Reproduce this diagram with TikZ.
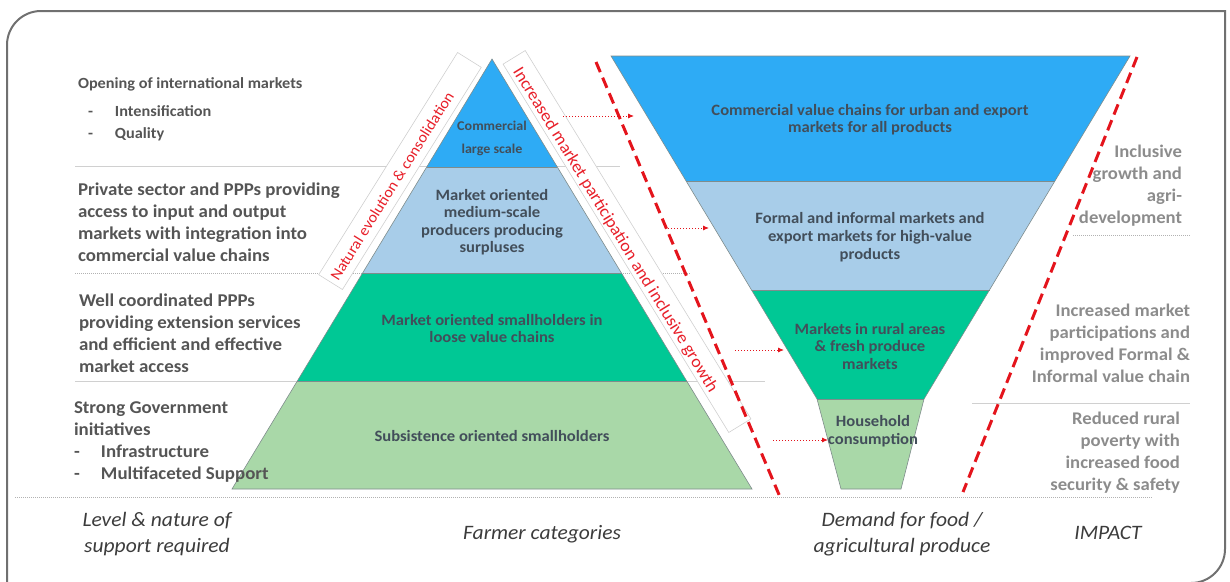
\documentclass[tikz,border=0pt]{standalone}
\usepackage{fontspec}
\setmainfont{Carlito}[FakeStretch=1.05]
\usetikzlibrary{arrows.meta}
\definecolor{cBlue}{HTML}{2EABF5}
\definecolor{cLBlue}{HTML}{A8CDE9}
\definecolor{cGreen}{HTML}{00C895}
\definecolor{cLGreen}{HTML}{A9D8A8}
\definecolor{cRed}{HTML}{E4141C}
\definecolor{cLabel}{HTML}{E8202A}
\definecolor{txtDark}{HTML}{424E5A}
\definecolor{txtLeft}{HTML}{555555}
\definecolor{txtRight}{HTML}{8C8C8C}
\definecolor{txtBottom}{HTML}{3C3C3C}
\definecolor{sepGray}{HTML}{D0D0D0}
\definecolor{frameGray}{HTML}{707070}
\definecolor{edgeGray}{HTML}{7F8C8C}
\begin{document}
\begin{tikzpicture}[x=1pt,y=-1pt,
  every node/.style={inner sep=0pt, outer sep=0pt},
  layer/.style={draw=edgeGray, line width=0.6pt},
  strutted/.style={execute at begin node=\strut, execute at end node=\strut},
  intext/.style={strutted, font=\fontsize{15.8}{17.6}\selectfont\bfseries, text=txtDark, align=center},
  lefttext/.style={strutted, font=\fontsize{18}{22}\selectfont\bfseries, text=txtLeft, align=left, anchor=north west},
  righttext/.style={strutted, font=\fontsize{17.8}{22}\selectfont\bfseries, text=txtRight, align=right, anchor=north east},
  bottomtext/.style={strutted, font=\fontsize{20.5}{26}\selectfont\itshape, text=txtBottom, align=center},
  flow/.style={cRed, line width=0.9pt, dash pattern=on 1.2pt off 1.8pt, -{Latex[length=6pt,width=5pt]}},
  redline/.style={cRed, line width=3pt, dash pattern=on 11pt off 6pt},
  labelbox/.style={draw=sepGray, fill=white, line width=0.6pt},
  labeltxt/.style={text=cLabel},
  sepline/.style={sepGray, line width=0.7pt},
  sepdot/.style={gray!60, line width=0.7pt, dash pattern=on 1pt off 1pt}
]
\useasboundingbox (0,0) rectangle (1230,581);

% frame
\draw[frameGray, line width=2pt] (7,590) -- (7,45) arc[start angle=180, end angle=270, radius=34] -- (1225,11) -- (1225,549) arc[start angle=0, end angle=90, radius=34] -- (7,583);

% separators
\draw[sepline] (75,166) -- (620,166);
\draw[sepdot] (75,273) -- (690,273);
\draw[sepline] (75,381) -- (765,381);
\draw[sepdot] (15,497) -- (1152,497);
\draw[sepdot] (1073,235) -- (1190,235);
\draw[sepline] (972,403) -- (1190,403);

% label boxes
\node[labelbox, minimum width=262pt, minimum height=28pt, rotate=58] (boxL) at (400,171) {};
\node[labelbox, minimum width=432pt, minimum height=26pt, rotate=-58.5] (boxR) at (627,241.5) {};
\node[labeltxt, rotate=58, font=\fontsize{15.3}{15.3}\selectfont] (txtL) at (392,186) {Natural evolution \& consolidation};
\node[labeltxt, rotate=-58.5, font=\fontsize{17.1}{17.1}\selectfont] (txtR) at (615,230) {Increased market participation and inclusive growth};

% pyramid
\fill[cBlue] (492,59) -- (557.3,167) -- (426.7,167) -- cycle;
\fill[cLBlue] (426.7,167) -- (557.3,167) -- (621.4,273) -- (362.6,273) -- cycle;
\fill[cGreen] (362.6,273) -- (621.4,273) -- (686.7,381) -- (297.3,381) -- cycle;
\fill[cLGreen] (297.3,381) -- (686.7,381) -- (752,489) -- (232,489) -- cycle;
\draw[layer] (492,59) -- (752,489) -- (232,489) -- cycle;
\draw[layer] (426.7,167) -- (557.3,167) (362.6,273) -- (621.4,273) (297.3,381) -- (686.7,381);

% funnel
\fill[cBlue] (611,56) -- (1130,56) -- (1054.9,181) -- (686.1,181) -- cycle;
\fill[cLBlue] (686.1,181) -- (1054.9,181) -- (989.5,290) -- (751.5,290) -- cycle;
\fill[cGreen] (751.5,290) -- (989.5,290) -- (924,399) -- (817,399) -- cycle;
\fill[cLGreen] (817,399) -- (924,399) -- (901,489) -- (841,489) -- cycle;
\draw[layer] (611,56) -- (1130,56) -- (924,399) -- (901,489) -- (841,489) -- (817,399) -- cycle;
\draw[layer] (686.1,181) -- (1054.9,181) (751.5,290) -- (989.5,290) (817,399) -- (924,399);

% pyramid texts
\node[intext, font=\fontsize{13.4}{23}\selectfont\bfseries] (pTop) at (492,141) {Commercial\\large scale};
\node[intext] (pMed) at (492,223.5) {Market oriented\\medium-scale\\producers producing\\surpluses};
\node[intext] (pSmall) at (492,331) {Market oriented smallholders in\\loose value chains};
\node[intext] (pSub) at (492,437.5) {Subsistence oriented smallholders};

% funnel texts
\node[intext] (fTop) at (870,121) {Commercial value chains for urban and export\\markets for all products};
\node[intext] (fFormal) at (870,238.5) {Formal and informal markets and\\export markets for high-value\\products};
\node[intext] (fRural) at (870,349) {Markets in rural areas\\\& fresh produce\\markets};
\node[intext] (fHouse) at (873,432.5) {Household\\consumption};

% flows
\coordinate (a1s) at (563,116); \coordinate (a1e) at (634,116);
\coordinate (a2s) at (668,228); \coordinate (a2e) at (709,228);
\coordinate (a3s) at (735,350); \coordinate (a3e) at (784,350);
\coordinate (a4s) at (773,440); \coordinate (a4e) at (828,440);
\draw[flow] (a1s) -- (a1e);
\draw[flow] (a2s) -- (a2e);
\draw[flow] (a3s) -- (a3e);
\draw[flow] (a4s) -- (a4e);

% red dashed lines
\coordinate (r1a) at (596,62); \coordinate (r1b) at (780,497);
\coordinate (r2a) at (1137,57); \coordinate (r2b) at (963,492);
\draw[redline] (r1a) -- (r1b);
\draw[redline] (r2a) -- (r2b);

% left column
\node[lefttext, font=\fontsize{15.5}{22}\selectfont\bfseries] (l0) at (78,73) {Opening of international markets};
\node[lefttext, font=\fontsize{15.5}{22}\selectfont\bfseries] (l0b) at (88,106) {\makebox[27pt][l]{-}Intensification\\\makebox[27pt][l]{-}Quality};
\node[lefttext] (l1) at (78,183) {Private sector and PPPs providing\\access to input and output\\markets with integration into\\commercial value chains};
\node[lefttext] (l2) at (79,294) {Well coordinated PPPs\\providing extension services\\and efficient and effective\\market access};
\node[lefttext] (l3) at (74,402) {Strong Government\\initiatives\\\makebox[27pt][l]{-}Infrastructure\\\makebox[27pt][l]{-}Multifaceted Support};

% right column
\node[righttext] (r0) at (1182,145) {Inclusive\\growth and\\agri-\\development};
\node[righttext] (r1) at (1190,304) {Increased market\\participations and\\improved Formal \&\\Informal value chain};
\node[righttext] (r2) at (1180,412) {Reduced rural\\poverty with\\increased food\\security \& safety};

% bottom labels
\node[bottomtext] (b0) at (157,536) {Level \& nature of\\support required};
\node[bottomtext] (b1) at (542,534) {Farmer categories};
\node[bottomtext] (b2) at (902,536) {Demand for food /\\agricultural produce};
\node[bottomtext] (b3) at (1108,534) {IMPACT};
\end{tikzpicture}
\end{document}
